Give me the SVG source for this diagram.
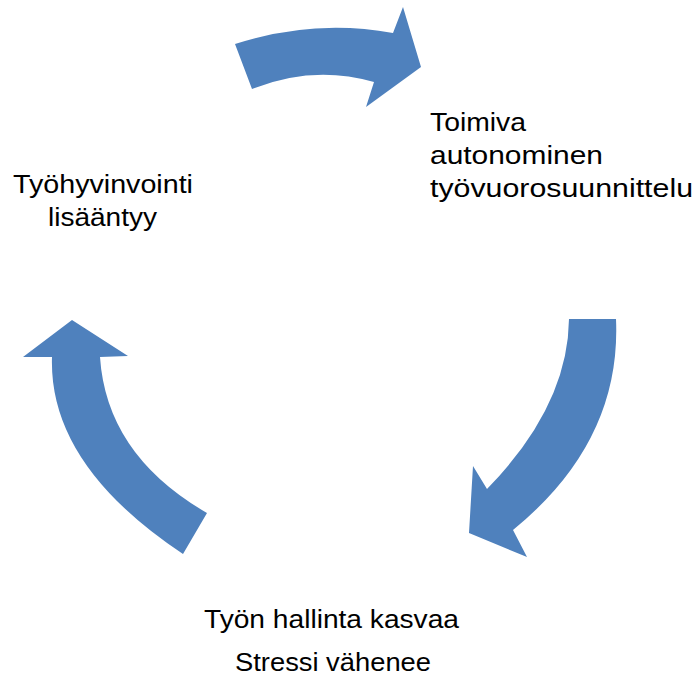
<svg xmlns="http://www.w3.org/2000/svg" width="695" height="683" viewBox="0 0 695 683">
<style>
.arrow{fill:#4F81BD;stroke:none}
.lbl{font-family:"Liberation Sans",Arial,sans-serif;font-size:25px;fill:#000}
</style>
<rect width="695" height="683" fill="#fff"/>
<g id="connectors">
<path id="arrow-top" class="arrow" d="M235,44 Q314,18.5 393,33 L403,7 L421,67 L366,107 L374,82 Q313,64.5 252,89 Z"/>
<path id="arrow-right" class="arrow" d="M569,319 L616,319 Q621.5,441.5 513,530 L527,557 L469,533 L473,466 L487,489 Q568,406 569,319 Z"/>
<path id="arrow-left" class="arrow" d="M207,513 Q106.5,455 100,357 L128,356 L72,320 L23,357 L52,357 Q48.5,464.5 183,554 Z"/>
</g>
<g id="node-toimiva">
<text class="lbl" x="430" y="131" textLength="96" lengthAdjust="spacingAndGlyphs">Toimiva</text>
<text class="lbl" x="430" y="164" textLength="173" lengthAdjust="spacingAndGlyphs">autonominen</text>
<text class="lbl" x="430" y="197" textLength="263" lengthAdjust="spacingAndGlyphs">työvuorosuunnittelu</text>
</g>
<g id="node-tyohyvinvointi">
<text class="lbl" x="13" y="193" textLength="180" lengthAdjust="spacingAndGlyphs">Työhyvinvointi</text>
<text class="lbl" x="48" y="226" textLength="109" lengthAdjust="spacingAndGlyphs">lisääntyy</text>
</g>
<g id="node-hallinta">
<text class="lbl" x="204" y="628" textLength="255" lengthAdjust="spacingAndGlyphs">Työn hallinta kasvaa</text>
<text class="lbl" x="235" y="671" textLength="196" lengthAdjust="spacingAndGlyphs">Stressi vähenee</text>
</g>
</svg>
